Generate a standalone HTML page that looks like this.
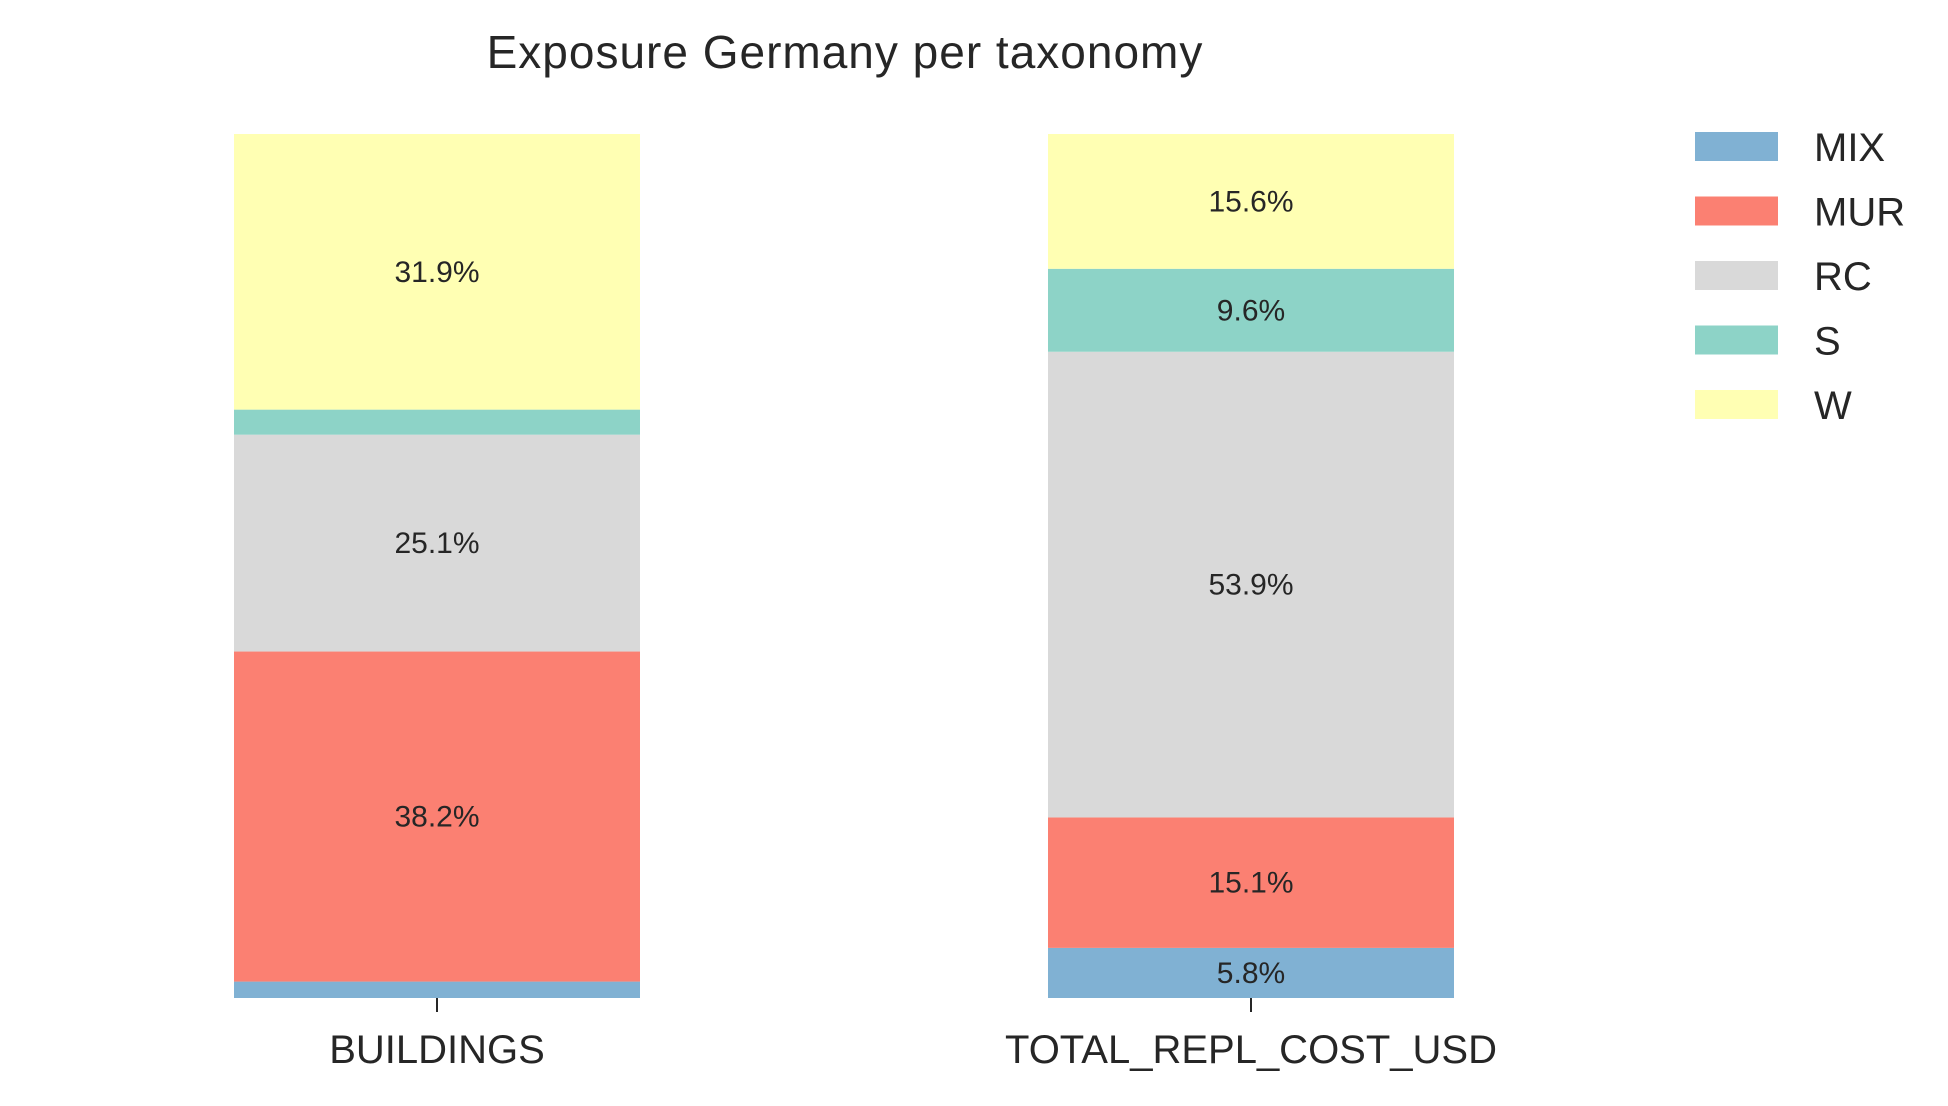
<!DOCTYPE html>
<html><head><meta charset="utf-8"><style>
body{margin:0;background:#fff;width:1948px;height:1101px;overflow:hidden}
svg text{font-family:"Liberation Sans",sans-serif;fill:#262626}
</style></head><body>
<svg id="chart" width="1948" height="1101">
<text x="845" y="68" font-size="46" text-anchor="middle" letter-spacing="1">Exposure Germany per taxonomy</text>
<g id="bars"></g>
<g id="legend"></g>
</svg>
<script>
const categories=["BUILDINGS","TOTAL_REPL_COST_USD"];
const seriesNames=["MIX","MUR","RC","S","W"];
const mixValues=[1.9,5.8];
const murValues=[38.2,15.1];
const rcValues=[25.1,53.9];
const sValues=[2.9,9.6];
const wValues=[31.9,15.6];
const colors=["#80b1d3","#fb8072","#d9d9d9","#8dd3c7","#ffffb3"];
const series=[mixValues,murValues,rcValues,sValues,wValues];
const NS="http://www.w3.org/2000/svg";
const y0=998,y1=134,barW=406,centers=[437,1251];
const yScale=v=>y0-(v/100)*(y0-y1);
const g=document.getElementById('bars');
function mk(t,a){const e=document.createElementNS(NS,t);for(const k in a)e.setAttribute(k,a[k]);return e;}
categories.forEach((c,i)=>{
  let cum=0;
  series.forEach((s,j)=>{
    const v=s[i];
    const r=mk('rect',{x:centers[i]-barW/2,y:yScale(cum+v),width:barW,height:yScale(cum)-yScale(cum+v),fill:colors[j]});
    
    
    g.appendChild(r);
    if(v>=5){
      const t=mk('text',{x:centers[i],y:(yScale(cum)+yScale(cum+v))/2+10,'font-size':30,'text-anchor':'middle'});
      t.textContent=v.toFixed(1)+'%';
      
      
      g.appendChild(t);
    }
    cum+=v;
  });
  const tk=mk('line',{x1:centers[i],x2:centers[i],y1:998,y2:1012,stroke:'#262626','stroke-width':2});
  
  
  g.appendChild(tk);
  const lt=mk('text',{x:centers[i],y:1063,'font-size':40,'text-anchor':'middle'});
  lt.textContent=c;
  
  
  g.appendChild(lt);
});
const lg=document.getElementById('legend');
seriesNames.forEach((n,j)=>{
  const y=132+j*64.5;
  const r=mk('rect',{x:1695,y:y,width:83,height:29,fill:colors[j]});
  
  
  lg.appendChild(r);
  const t=mk('text',{x:1814,y:y+29,'font-size':40});
  t.textContent=n;
  
  
  lg.appendChild(t);
});
</script>
</body></html>
